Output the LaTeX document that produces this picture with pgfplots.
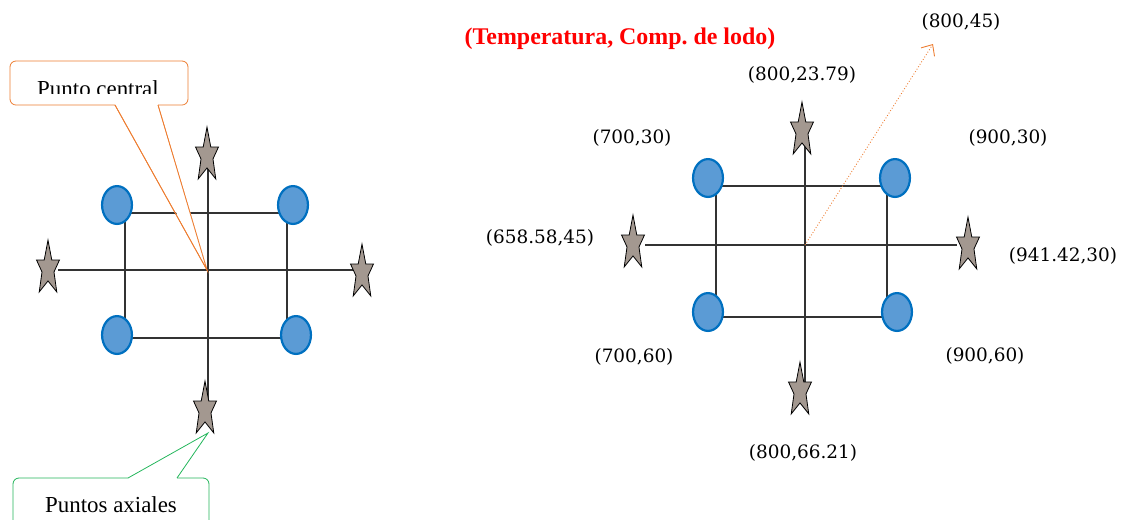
\documentclass[border=0pt]{standalone}
\usepackage{pgfplots}
\pgfplotsset{compat=1.18}
\usepackage{fontspec}
\setmainfont{Liberation Serif}
\newfontfamily\coordfont{DejaVu Serif}
\usetikzlibrary{arrows.meta}

\definecolor{ellfill}{HTML}{5B9BD5}
\definecolor{elldraw}{HTML}{0070C0}
\definecolor{starfill}{HTML}{A39890}
\definecolor{calloutorange}{HTML}{ED7D31}
\definecolor{calloutgreen}{HTML}{22B55A}
\definecolor{linegray}{HTML}{333333}
\definecolor{titlered}{HTML}{FF0000}

\pgfdeclareplotmark{tallstar}{%
  \pgfpathmoveto{\pgfqpoint{0pt}{26pt}}%
  \pgfpathlineto{\pgfqpoint{3.8pt}{6pt}}%
  \pgfpathlineto{\pgfqpoint{11.5pt}{6pt}}%
  \pgfpathlineto{\pgfqpoint{6pt}{-6pt}}%
  \pgfpathlineto{\pgfqpoint{8.8pt}{-26pt}}%
  \pgfpathlineto{\pgfqpoint{0pt}{-15pt}}%
  \pgfpathlineto{\pgfqpoint{-8.8pt}{-26pt}}%
  \pgfpathlineto{\pgfqpoint{-6pt}{-6pt}}%
  \pgfpathlineto{\pgfqpoint{-11.5pt}{6pt}}%
  \pgfpathlineto{\pgfqpoint{-3.8pt}{6pt}}%
  \pgfpathclose
  \pgfusepathqfillstroke
}
\pgfdeclareplotmark{bigellipse}{%
  \pgfpathellipse{\pgfpointorigin}{\pgfqpoint{15pt}{0pt}}{\pgfqpoint{0pt}{19pt}}%
  \pgfusepathqfillstroke
}

\begin{document}
\begin{tikzpicture}
\begin{axis}[
  at={(0,0)}, anchor=south west,
  scale only axis, width=1124bp, height=520bp,
  xmin=0, xmax=1124, ymin=0, ymax=520, y dir=reverse,
  hide axis, clip=false,
]
% ---------- left diagram ----------
\addplot[linegray, line width=1.3pt] coordinates {(58,270) (355,270)};
\addplot[linegray, line width=1.3pt] coordinates {(208,150) (208,405)};
\addplot[linegray, line width=1.3pt, line join=miter] coordinates {(125,213) (287,213) (287,338) (125,338) (125,213)};
% ---------- right diagram ----------
\addplot[linegray, line width=1.3pt] coordinates {(645,245) (957,245)};
\addplot[linegray, line width=1.3pt] coordinates {(805,140) (805,385)};
\addplot[linegray, line width=1.3pt, line join=miter] coordinates {(716,186) (887,186) (887,317) (716,317) (716,186)};
% dotted arrow
\addplot[calloutorange, line width=0.9pt, dotted, -{Straight Barb[length=9pt,width=16pt]}] coordinates {(805,245) (933,44)};
% ellipses (factorial points)
\addplot[only marks, mark=bigellipse, mark options={fill=ellfill, draw=elldraw, line width=2.2pt}]
  coordinates {(117,205) (293,205) (117,335) (296,335) (708,178) (895,178) (708,312) (897,312)};
% stars (axial points)
\addplot[only marks, mark=tallstar, mark options={fill=starfill, draw=black, line width=0.8pt}]
  coordinates {(207,153) (48,266) (362,270) (205,407) (802,128) (633,241) (968,243) (800,388)};
% callouts
\draw[calloutorange, line width=0.8pt, fill=white, rounded corners=6pt]
  (axis cs:115,105) -- (axis cs:10,105) -- (axis cs:10,61) -- (axis cs:188,61) -- (axis cs:188,105) -- (axis cs:158,105);
\draw[calloutorange, line width=0.8pt] (axis cs:115,105) -- (axis cs:207,270) -- (axis cs:158,105);
\fill[white] (axis cs:116,104) -- (axis cs:207,268) -- (axis cs:157,104) -- cycle;
\draw[calloutorange, line width=0.8pt] (axis cs:115,105) -- (axis cs:207,270) -- (axis cs:158,105);
\draw[calloutgreen, line width=0.8pt, fill=white, rounded corners=6pt]
  (axis cs:128,478) -- (axis cs:13,478) -- (axis cs:13,540) -- (axis cs:209,540) -- (axis cs:209,478) -- (axis cs:177,478);
\draw[calloutgreen, line width=0.8pt] (axis cs:128,478) -- (axis cs:208,433) -- (axis cs:177,478);
\coordinate (pcA) at (axis cs:12,63);
\coordinate (pcB) at (axis cs:186,93.5);
\coordinate (pcT) at (axis cs:98,97);
\coordinate (paT) at (axis cs:111,512);
% labels
\node[font=\fontsize{24}{28}\selectfont\bfseries, text=titlered] at (axis cs:620,39) {(Temperatura, Comp.\ de lodo)};
\node[font=\coordfont\fontsize{18.5}{22}\selectfont] at (axis cs:961,22) {(800,45)};
\node[font=\coordfont\fontsize{18.5}{22}\selectfont] at (axis cs:802,75) {(800,23.79)};
\node[font=\coordfont\fontsize{18.5}{22}\selectfont] at (axis cs:632,138) {(700,30)};
\node[font=\coordfont\fontsize{18.5}{22}\selectfont] at (axis cs:1008,138) {(900,30)};
\node[font=\coordfont\fontsize{18.5}{22}\selectfont] at (axis cs:540,238) {(658.58,45)};
\node[font=\coordfont\fontsize{18.5}{22}\selectfont] at (axis cs:1063,256) {(941.42,30)};
\node[font=\coordfont\fontsize{18.5}{22}\selectfont] at (axis cs:634,357) {(700,60)};
\node[font=\coordfont\fontsize{18.5}{22}\selectfont] at (axis cs:985,356) {(900,60)};
\node[font=\coordfont\fontsize{18.5}{22}\selectfont] at (axis cs:803,453) {(800,66.21)};
\end{axis}
\begin{scope}
  \clip (pcA) rectangle (pcB);
  \node[anchor=base, inner sep=0pt, font=\fontsize{23}{27}\selectfont] at (pcT) {Punto central};
\end{scope}
\node[anchor=base, inner sep=0pt, font=\fontsize{23}{27}\selectfont] at (paT) {Puntos axiales};
\pgfresetboundingbox
\useasboundingbox (0,0) rectangle (1124bp,520bp);
\end{tikzpicture}
\end{document}
